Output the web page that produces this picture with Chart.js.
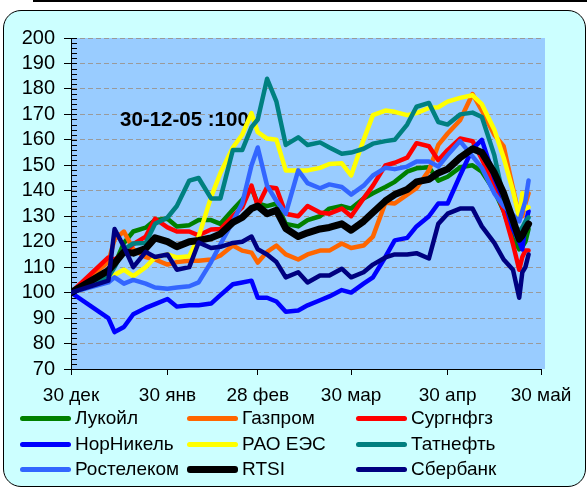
<!DOCTYPE html>
<html>
<head>
<meta charset="utf-8">
<script src="https://cdn.jsdelivr.net/npm/chart.js@4"></script>
<style>
  html, body { margin:0; padding:0; background:#fff; }
  body { width:587px; height:489px; overflow:hidden; position:relative; font-family:"Liberation Sans", Arial, sans-serif; }
  #topline { position:absolute; left:33px; top:0; width:554px; height:2px; background:#000; }
  #frame { position:absolute; left:3px; top:10px; width:581px; height:475px; border:1.5px solid #000; border-radius:18px; background:#CCFFFF; }
  #c { position:absolute; left:0; top:0; }
  .lg { position:absolute; height:24px; line-height:24px; font-size:19px; color:#000; white-space:nowrap; }
  .lg i { position:absolute; left:0; top:50%; width:51px; border-radius:3px; }
  .lg span { position:absolute; left:55px; top:0; }
</style>
</head>
<body>
<div id="topline"></div>
<div id="frame"></div>
<canvas id="c" width="587" height="489"></canvas>
<div id="legend"></div>
<script>
// Trading-day offsets from 30 Dec 2005
const days = [0,12,14,17,20,24,27,31,34,38,41,45,48,52,55,58,60,63,66,69,73,76,80,83,87,90,94,97,101,104,108,111,115,118,121,125,129,132,136,139,142,144,145,146,147];

const lukoil     = [100,107,111,119.5,124,125.5,128.5,129,126,126.5,128.5,128.5,127,132.5,136.5,141,135,134,135,127,126,128.5,130,133,134,133,137,139,141.5,143.5,147.5,148.8,149.2,144,145.5,149.2,150,147.5,140,132,121,117,118,120,125];
const gazprom    = [100,112,121,124,117,114,113,111,112,112.5,112.5,113,114.6,118.5,116.5,115.7,111.8,116,118.5,115,113,115,116.5,116.5,119.3,117.5,118.5,122,135.3,135,138.5,141,148,158,162.5,167.7,178,171.5,162,157.5,141,130,130,135,139];
const surgut     = [100,113.8,113,115.5,119,122,129,125.6,124,124,122.5,124.8,125,130,133.5,142,134,141.5,141,131,130,134,131.5,131,133,130,137,142,150,151,153,158.7,157.5,152,156,160.5,159.5,152.5,142,132,119,109,114,116.5,116.5];
const nornickel  = [100,90,84.5,86.5,91.5,94,95.5,97.5,94.5,95,95,95.7,99,103.3,104,104.7,98,98,96.5,92.5,93,95,97,98.5,101,100,103.5,106,114,120.5,121.5,126,130,135,135,146,156.5,160,145,136.5,125,120,117,127,132];
const rao        = [100,104.7,107,109,106.5,110,113.8,115,113.8,114.3,122,137.5,147,157,162,170.5,163,160.5,160,148,148,148,149,150.5,150.8,146,160,169.7,171.5,171,169.7,170.5,172.5,172.8,175,176.5,177.5,174,164,153,140,129.5,139,133,133.5];
const tatneft    = [100,106,110,117,119.3,119.5,127,129.5,134,144,145,137,137,156,156,165,168,184,175,158,161,158,159,157,154.5,155,156.5,158.5,159.5,160,166,173,174.5,167,166,170,170.7,169,154,137,127,124,125.6,128,129.5];
const rostelecom = [100,104,106,103.5,105,103.5,102,101.5,102,102.5,104,112,119,128,135,150,157,142,136,131,148,143,141,142.5,141.5,138.5,142,146,149,148.5,149.5,151.5,151.5,149.5,154,159.5,153.5,149,139,134,130.5,128,132,136,144];
const rtsi       = [100,108.7,111.5,116,115.5,117.3,121.5,120,118,120,120.5,121.5,123,127.6,129.5,133,134,131,132.3,125.2,122,123.5,125,125.6,127,124.5,128,131.5,136,138.5,140.5,143.5,144.5,147,148.5,153,156.5,155,147,139,128.5,121,122.5,125,127];
const sberbank   = [100,104.7,125,118,110,116,114,115,109,110,119.7,117.5,118,119.5,120,122,117,115,112,106,108,104,106.7,106.7,109.4,106,108,111,113.8,115,115,115.5,113.4,127,131,133,133,126,119.5,113,109,98,108,110,115];

const seriesNames  = ["Лукойл","Газпром","Сургнфгз","НорНикель","РАО ЕЭС","Татнефть","Ростелеком","RTSI","Сбербанк"];
const seriesValues = [lukoil, gazprom, surgut, nornickel, rao, tatneft, rostelecom, rtsi, sberbank];
const seriesColors = ["#008000","#FF6600","#FF0000","#0000FF","#FFFF00","#008080","#3366FF","#000000","#000080"];
const seriesWidths = [4.5,4.5,4.5,4.5,4.5,4.5,4.5,7,4.5];

const tickDays   = [0,31,60,90,121,151];
const tickLabels = ["30 дек","30 янв","28 фев","30 мар","30 апр","30 май"];
const yTicks     = [70,80,90,100,110,120,130,140,150,160,170,180,190,200];
const note = "30-12-05 :100";

const FONT = "'Liberation Sans', Arial, sans-serif";

const datasets = seriesNames.map((name, i) => ({
  label: name,
  data: days.map((d, k) => ({x: d, y: seriesValues[i][k]})),
  borderColor: seriesColors[i],
  backgroundColor: seriesColors[i],
  borderWidth: seriesWidths[i],
  order: seriesNames.length - i,
  pointRadius: 0,
  tension: 0,
  fill: false,
  borderJoinStyle: 'round',
  borderCapStyle: 'round'
}));

const decor = {
  id: 'decor',
  beforeDraw(chart) {
    const {ctx, chartArea: a} = chart;
    ctx.save();
    ctx.fillStyle = '#99CCFF';
    ctx.fillRect(a.left, a.top, a.right - a.left + 4, a.bottom - a.top);
    ctx.restore();
  },
  beforeDatasetsDraw(chart) {
    const {ctx, chartArea: a} = chart;
    const y = chart.scales.y;
    ctx.save();
    ctx.strokeStyle = '#000';
    ctx.lineWidth = 1;
    for (let v = 70; v <= 200; v += 2) {
      const py = Math.round(y.getPixelForValue(v)) + 0.5;
      ctx.beginPath();
      ctx.moveTo(a.left, py);
      ctx.lineTo(a.left + 6, py);
      ctx.stroke();
    }
    ctx.fillStyle = '#000';
    ctx.font = "bold 20.5px " + FONT;
    ctx.textBaseline = 'middle';
    ctx.textAlign = 'left';
    ctx.fillText(note, 120, 120);
    ctx.restore();
  }
};

new Chart(document.getElementById('c'), {
  type: 'line',
  data: { datasets },
  options: {
    responsive: false,
    animation: false,
    layout: { padding: { left: 0, top: 38, right: 46, bottom: 0 } },
    plugins: { legend: { display: false }, tooltip: { enabled: false } },
    scales: {
      x: {
        type: 'linear', min: 0, max: 151,
        afterBuildTicks: s => { s.ticks = tickDays.map(v => ({ value: v })); },
        afterFit: s => { s.height = 120; },
        ticks: {
          autoSkip: false, maxRotation: 0, padding: 9, color: '#000',
          font: { size: 19, family: FONT },
          callback: v => tickLabels[tickDays.indexOf(v)]
        },
        grid: { drawOnChartArea: false, drawTicks: true, tickLength: 6, color: '#000', tickColor: '#000' },
        border: { display: true, color: '#000', width: 1 }
      },
      y: {
        min: 70, max: 200,
        afterBuildTicks: s => { s.ticks = yTicks.map(v => ({ value: v })); },
        afterFit: s => { s.width = 71; },
        ticks: { autoSkip: false, padding: 9, color: '#000', font: { size: 20, family: FONT } },
        grid: { color: '#9a9a9a', lineWidth: 1, tickLength: 7, tickColor: '#000', tickBorderDash: [] },
        border: { display: true, color: '#000', width: 1, dash: [5, 3] }
      }
    }
  },
  plugins: [decor]
});

// Legend (HTML text)
const lgX = [20, 187, 356];
const lgY = [418, 444, 469];
const legend = document.getElementById('legend');
seriesNames.forEach((name, i) => {
  const d = document.createElement('div');
  d.className = 'lg';
  d.style.left = lgX[i % 3] + 'px';
  d.style.top = (lgY[Math.floor(i / 3)] - 12) + 'px';
  const bar = document.createElement('i');
  bar.style.background = seriesColors[i];
  bar.style.height = (i === 7 ? 7 : 5) + 'px';
  bar.style.marginTop = (i === 7 ? -3.5 : -2.5) + 'px';
  const t = document.createElement('span');
  t.textContent = name;
  d.appendChild(bar); d.appendChild(t);
  legend.appendChild(d);
});
</script>
</body>
</html>
